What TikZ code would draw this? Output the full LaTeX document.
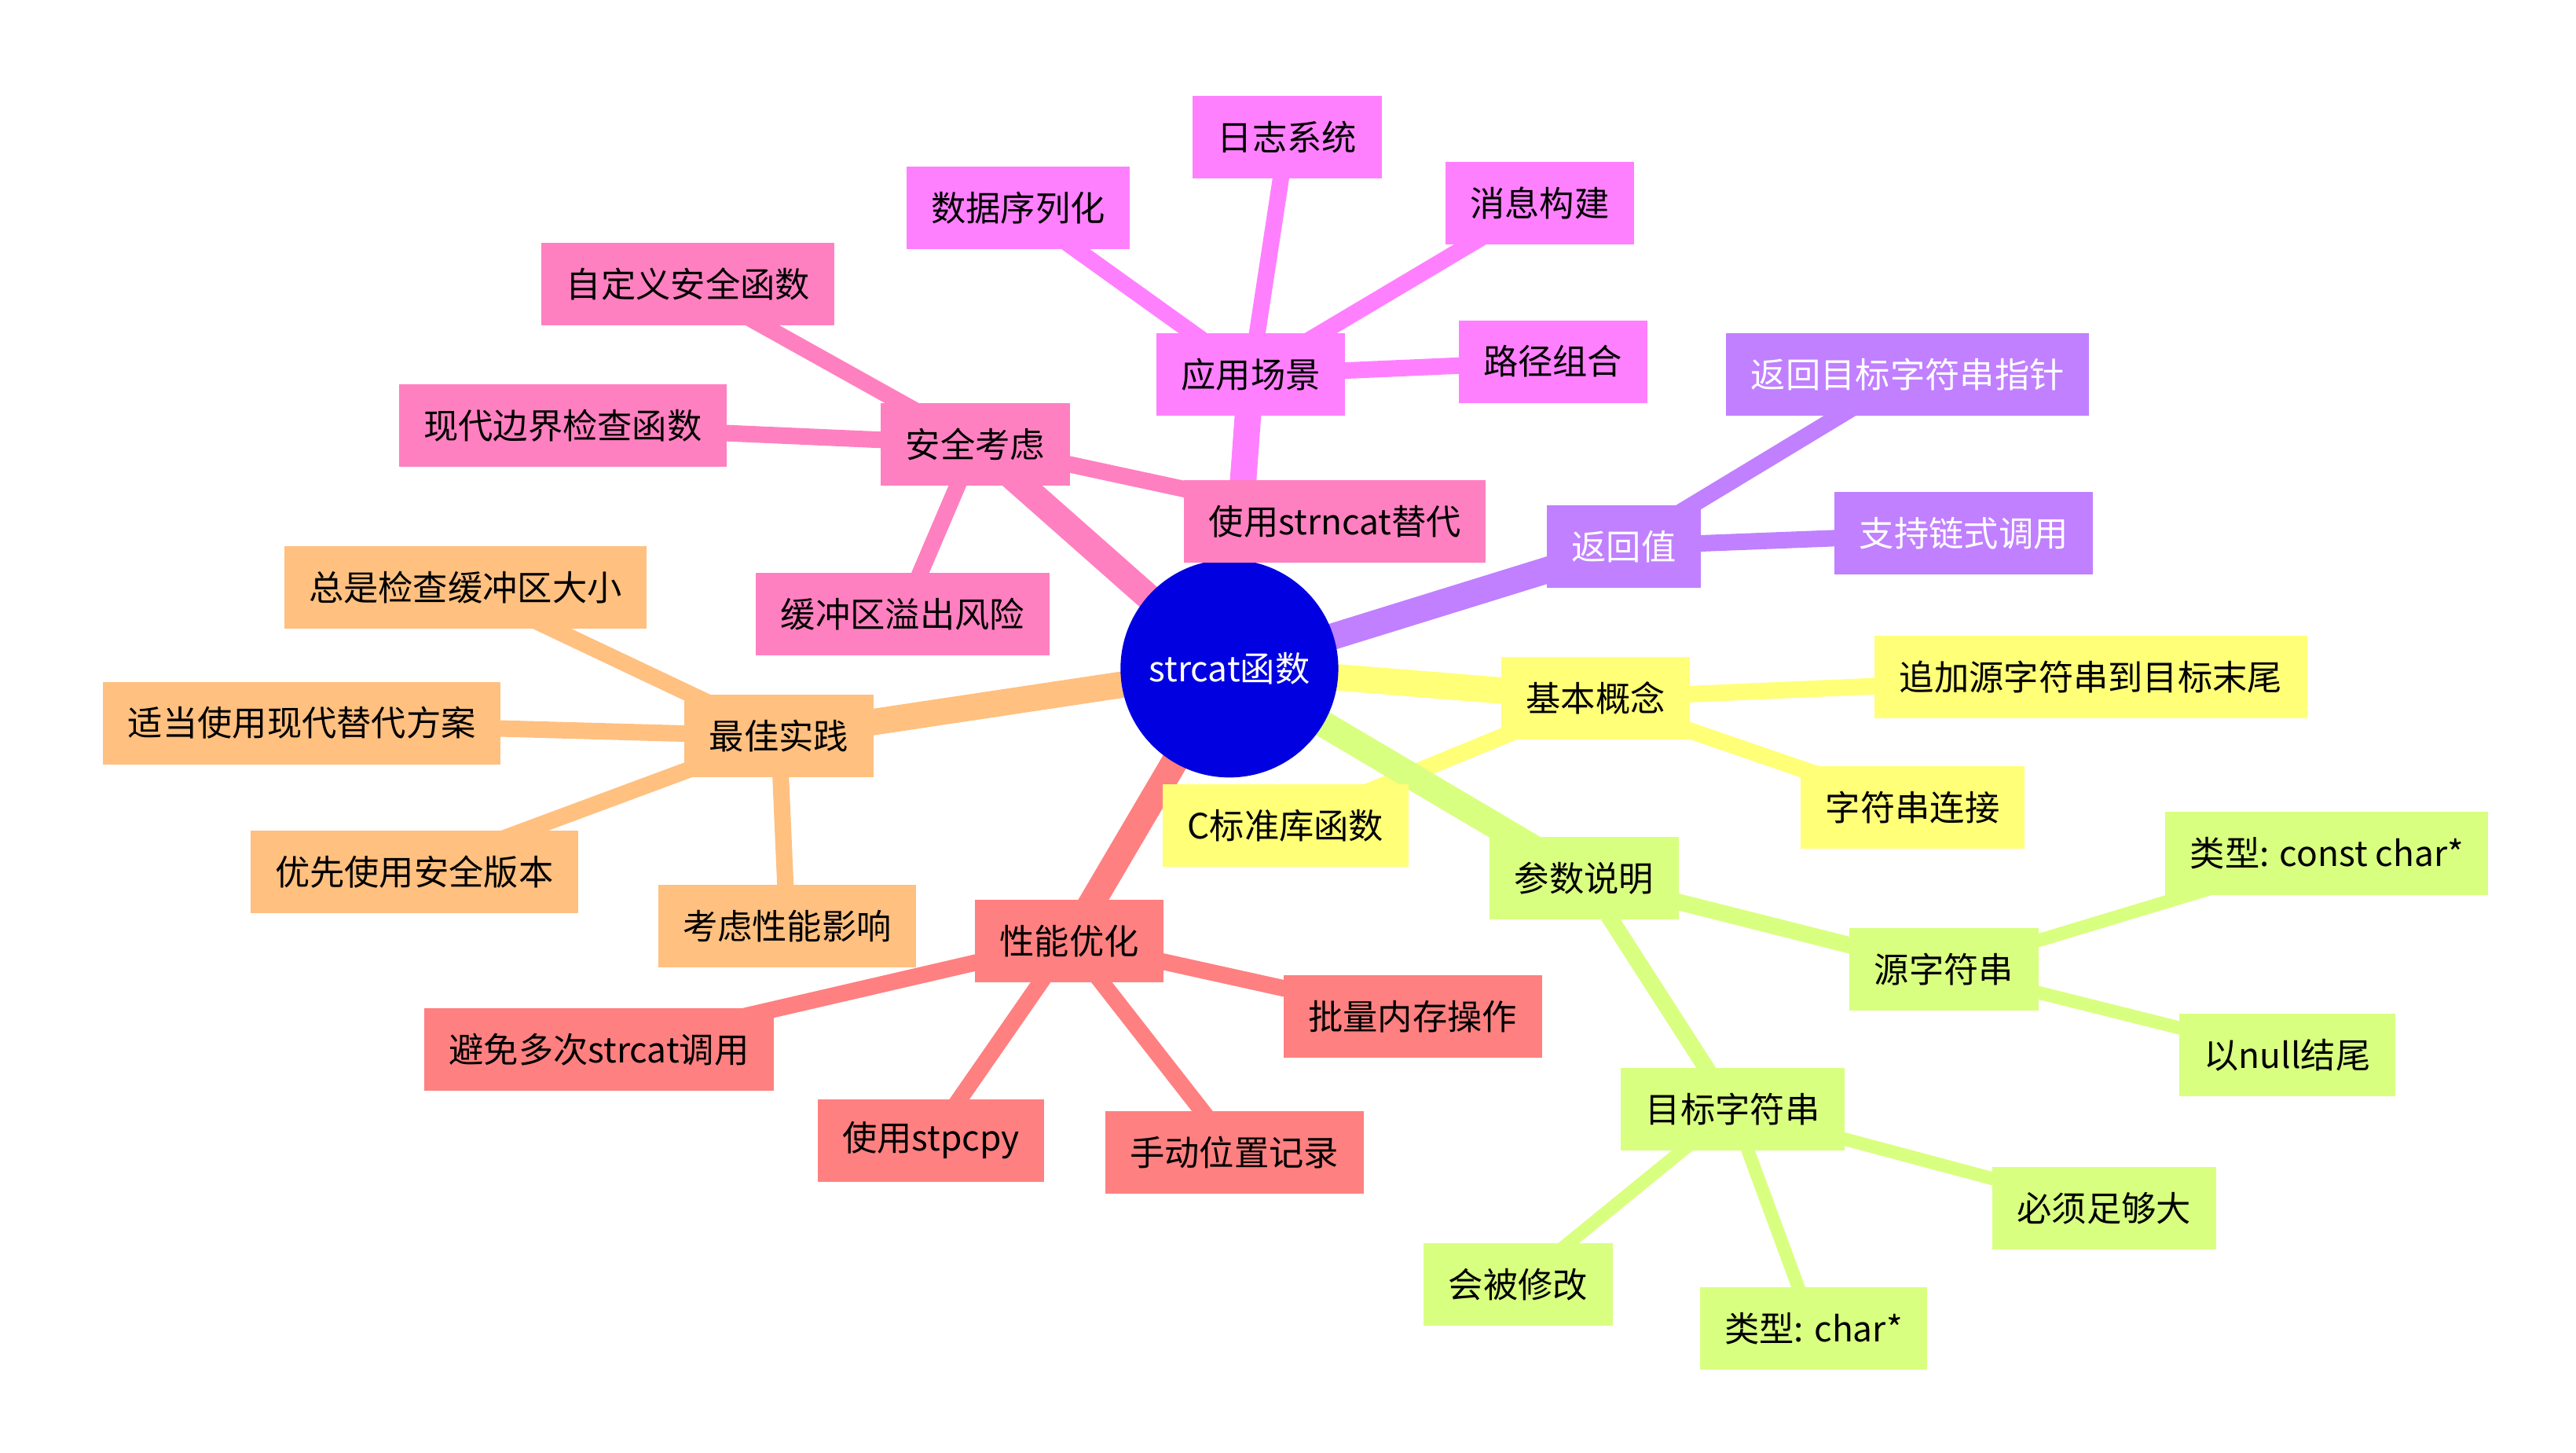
\documentclass[tikz,border=0pt]{standalone}
\usepackage{fontspec}
\setmainfont{Noto Sans CJK SC}
\usetikzlibrary{backgrounds}
\definecolor{cY}{HTML}{FFFF78}\definecolor{cG}{HTML}{D9FF80}\definecolor{cP}{HTML}{C080FF}
\definecolor{cR}{HTML}{FF8080}\definecolor{cO}{HTML}{FFC080}\definecolor{cK}{HTML}{FF80C0}
\definecolor{cM}{HTML}{FF80FF}\definecolor{uP}{HTML}{B8B0F0}\definecolor{uG}{HTML}{C8F0C8}
\definecolor{uC}{HTML}{C8F0F0}\definecolor{uB}{HTML}{B8D8F0}
\tikzset{
 bx/.style 2 args={fill=#1,draw=none,inner xsep=0.75cm,minimum height=2.5cm,font=\fontsize{30}{30}\selectfont,
   append after command={\pgfextra{\let\mynode\tikzlastnode}[draw=#2,line width=0.2cm] ([yshift=0.1cm]\mynode.south west)--([yshift=0.1cm]\mynode.south east)}},
 e/.style={line width=#1*0.05cm,line cap=round},
}
\begin{document}
\begin{tikzpicture}[x=0.05cm,y=-0.05cm]
\useasboundingbox (0,0) rectangle (1561,880);
\node[circle,fill=blue!88!black,text=white,minimum size=6.6cm,font=\fontsize{30}{30}\selectfont] (c) at (745,405) {strcat函数};
% yellow
\node[bx={cY}{uP}] (y) at (967,423) {基本概念};
\node[bx={cY}{uP}] (y1) at (1267,410) {追加源字符串到目标末尾};
\node[bx={cY}{uP}] (y2) at (1159,489) {字符串连接};
\node[bx={cY}{uP}] (y3) at (779,500) {C标准库函数};
% green
\node[bx={cG}{uP}] (g) at (960,532) {参数说明};
\node[bx={cG}{uP}] (g1) at (1178,587) {源字符串};
\node[bx={cG}{uP}] (g11) at (1410,517) {类型: const char*};
\node[bx={cG}{uP}] (g12) at (1386,639) {以null结尾};
\node[bx={cG}{uP}] (g2) at (1050,672) {目标字符串};
\node[bx={cG}{uP}] (g21) at (1275,732) {必须足够大};
\node[bx={cG}{uP}] (g22) at (1099,805) {类型: char*};
\node[bx={cG}{uP}] (g23) at (920,778) {会被修改};
% purple
\node[bx={cP}{uG},text=white] (p) at (984,331) {返回值};
\node[bx={cP}{uG},text=white] (p1) at (1156,227) {返回目标字符串指针};
\node[bx={cP}{uG},text=white] (p2) at (1190,323) {支持链式调用};
% red
\node[bx={cR}{uC}] (r) at (648,570) {性能优化};
\node[bx={cR}{uC}] (r1) at (363,636) {避免多次strcat调用};
\node[bx={cR}{uC}] (r2) at (564,691) {使用stpcpy};
\node[bx={cR}{uC}] (r3) at (748,698) {手动位置记录};
\node[bx={cR}{uC}] (r4) at (856,616) {批量内存操作};
% orange
\node[bx={cO}{uB}] (o) at (472,446) {最佳实践};
\node[bx={cO}{uB}] (o1) at (282,356) {总是检查缓冲区大小};
\node[bx={cO}{uB}] (o2) at (183,438) {适当使用现代替代方案};
\node[bx={cO}{uB}] (o3) at (251,528) {优先使用安全版本};
\node[bx={cO}{uB}] (o4) at (477,561) {考虑性能影响};
% pink
\node[bx={cK}{uG}] (k) at (591,269) {安全考虑};
\node[bx={cK}{uG}] (k1) at (417,172) {自定义安全函数};
\node[bx={cK}{uG}] (k2) at (341,258) {现代边界检查函数};
\node[bx={cK}{uG}] (k3) at (547,372) {缓冲区溢出风险};
\node[bx={cK}{uG}] (k4) at (809,316) {使用strncat替代};
% magenta
\node[bx={cM}{uG}] (m) at (758,227) {应用场景};
\node[bx={cM}{uG}] (m1) at (617,126) {数据序列化};
\node[bx={cM}{uG}] (m2) at (780,83) {日志系统};
\node[bx={cM}{uG}] (m3) at (933,123) {消息构建};
\node[bx={cM}{uG}] (m4) at (941,219) {路径组合};
\begin{scope}[on background layer]
\draw[e=16,cY] (c.center)--(y.center); \draw[e=10,cY] (y.center)--(y1.center); \draw[e=10,cY] (y.center)--(y2.center); \draw[e=10,cY] (y.center)--(y3.center);
\draw[e=16,cG] (c.center)--(g.center); \draw[e=10,cG] (g.center)--(g1.center); \draw[e=10,cG] (g.center)--(g2.center);
\draw[e=8,cG] (g1.center)--(g11.center); \draw[e=8,cG] (g1.center)--(g12.center);
\draw[e=8,cG] (g2.center)--(g21.center); \draw[e=8,cG] (g2.center)--(g22.center); \draw[e=8,cG] (g2.center)--(g23.center);
\draw[e=16,cP] (c.center)--(p.center); \draw[e=10,cP] (p.center)--(p1.center); \draw[e=10,cP] (p.center)--(p2.center);
\draw[e=16,cR] (c.center)--(r.center); \foreach \n in {r1,r2,r3,r4}{\draw[e=10,cR] (r.center)--(\n.center);}
\draw[e=16,cO] (c.center)--(o.center); \foreach \n in {o1,o2,o3,o4}{\draw[e=10,cO] (o.center)--(\n.center);}
\draw[e=16,cK] (c.center)--(k.center); \foreach \n in {k1,k2,k3,k4}{\draw[e=10,cK] (k.center)--(\n.center);}
\draw[e=16,cM] (c.center)--(m.center); \foreach \n in {m1,m2,m3,m4}{\draw[e=10,cM] (m.center)--(\n.center);}
\end{scope}
\end{tikzpicture}
\end{document}
